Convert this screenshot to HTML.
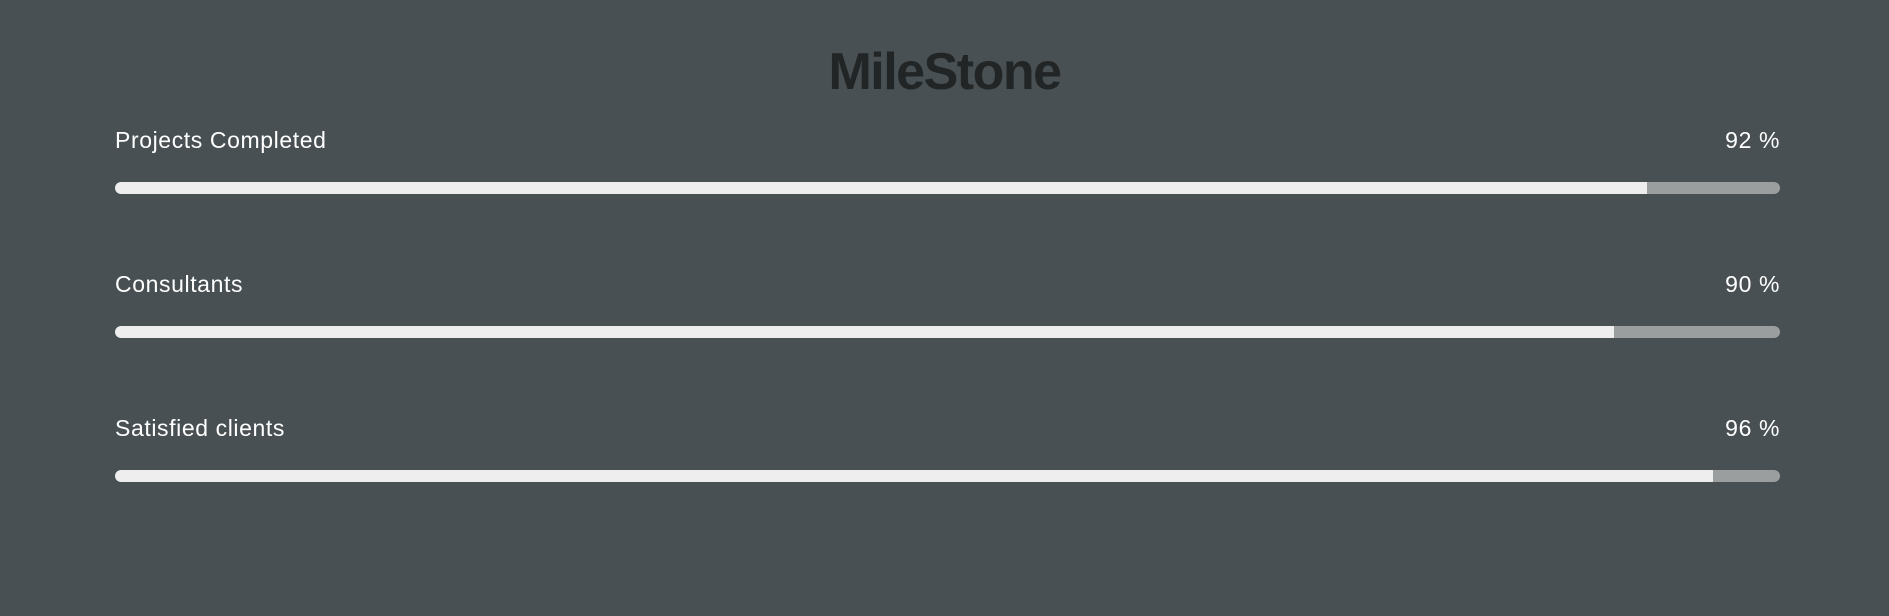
<!DOCTYPE html>
<html><head><meta charset="utf-8"><style>
html,body{margin:0;padding:0;}
body{width:1889px;height:616px;background:#485053;position:relative;overflow:hidden;font-family:"Liberation Sans",sans-serif;}
#title{position:absolute;left:0;width:1889px;top:40px;text-align:center;font-size:52px;font-weight:bold;color:#222526;line-height:64px;letter-spacing:-1.5px;}
.lbl{position:absolute;left:115px;font-size:23px;color:#fff;line-height:26px;letter-spacing:0.6px;}
.val{position:absolute;right:109px;font-size:23px;color:#fff;line-height:26px;letter-spacing:0.6px;}
.track{position:absolute;left:115px;width:1665px;height:12px;border-radius:6px;background:#9a9e9f;overflow:hidden;}
.fill{height:100%;background:#eeeeee;border-radius:6px 0 0 6px;}
</style></head><body>
<div id="title">MileStone</div>
<div id="rows"></div>
<script>
const categories=["Projects Completed","Consultants","Satisfied clients"];
const values=[92,90,96];
const root=document.getElementById('rows');
categories.forEach((c,i)=>{
  const y=i*144;
  const l=document.createElement('div');l.className='lbl';l.style.top=(127+y)+'px';l.textContent=c;
  
  
  const v=document.createElement('div');v.className='val';v.style.top=(127+y)+'px';v.textContent=values[i]+' %';
  
  
  const t=document.createElement('div');t.className='track';t.style.top=(182+y)+'px';
  
  
  const f=document.createElement('div');f.className='fill';f.style.width=values[i]+'%';
  
  
  t.appendChild(f);root.appendChild(l);root.appendChild(v);root.appendChild(t);
});
</script>
</body></html>
